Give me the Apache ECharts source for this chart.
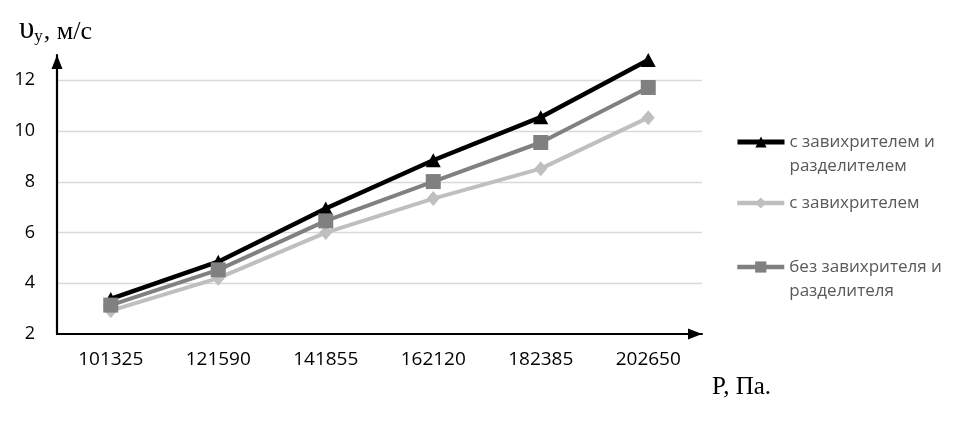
<!DOCTYPE html>
<html><head><meta charset="utf-8">
<script src="https://cdn.jsdelivr.net/npm/echarts@6/dist/echarts.min.js"></script>
<style>html,body{margin:0;padding:0;background:#fff}#c{width:957px;height:428px}</style>
</head><body><div id="c"></div>
<script>
const categories = ['101325', '121590', '141855', '162120', '182385', '202650'];
const seriesNames = ['с завихрителем и разделителем', 'с завихрителем', 'без завихрителя и разделителя'];
const withSwirlerAndSeparator = [3.38, 4.85, 6.95, 8.85, 10.55, 12.8];
const withSwirler = [2.92, 4.2, 6.0, 7.34, 8.52, 10.53];
const withoutSwirlerAndSeparator = [3.14, 4.53, 6.46, 8.01, 9.55, 11.72];
const yTicks = [2, 4, 6, 8, 10, 12];

const chart = echarts.init(document.getElementById('c'), null, {renderer: 'canvas'});
const sans = '"Open Sans", sans-serif';
const serif = '"Liberation Serif", "DejaVu Serif", serif';

function legendFor(name, top, lw) {
  return {
    data: [name], orient: 'vertical', left: 735, top: top, padding: 0,
    itemWidth: 47, itemHeight: 14, selectedMode: false,
    lineStyle: { width: lw },
    formatter: function (n) {
      if (n === seriesNames[0]) return '\nс завихрителем и\nразделителем';
      if (n === seriesNames[2]) return '\nбез завихрителя и\nразделителя';
      return n;
    },
    textStyle: { fontFamily: sans, fontSize: 17, color: '#595959', lineHeight: 24 }
  };
}

const option = {
  animation: false,
  backgroundColor: '#fff',
  grid: { left: 57, right: 255, top: 55, bottom: 94, containLabel: false },
  title: [
    { text: '{a|υ}{b|у}{c|, м/с}', left: 19, top: 14, padding: 0,
      textStyle: { fontWeight: 'normal', rich: {
        a: { fontFamily: serif, fontSize: 31, fontWeight: 'normal', color: '#000', verticalAlign: 'bottom' },
        b: { fontFamily: serif, fontSize: 17, fontWeight: 'normal', color: '#000', padding: [14, 1, 0, 0], verticalAlign: 'bottom' },
        c: { fontFamily: serif, fontSize: 26, fontWeight: 'normal', color: '#000', verticalAlign: 'bottom' } } } },
    { text: 'P, Па.', left: 712, top: 375, padding: 0,
      textStyle: { fontFamily: serif, fontSize: 25, fontWeight: 'normal', color: '#000' } }
  ],
  legend: [
    legendFor(seriesNames[0], 106, 5),
    legendFor(seriesNames[1], 191, 4.5),
    legendFor(seriesNames[2], 231, 4.5)
  ],
  xAxis: {
    type: 'category', data: categories, boundaryGap: true,
    axisLine: { show: true, lineStyle: { color: '#000', width: 2.2 },
      symbol: ['none', 'triangle'], symbolSize: [11, 14], symbolOffset: [0, -7] },
    axisTick: { show: false },
    axisLabel: { fontFamily: sans, fontSize: 19, color: '#000', margin: 16 },
    splitLine: { show: false }
  },
  yAxis: {
    type: 'value', min: 2, max: 13, interval: 2,
    axisLine: { show: true, lineStyle: { color: '#000', width: 2.2 },
      symbol: ['none', 'triangle'], symbolSize: [11, 14], symbolOffset: [0, -7] },
    axisTick: { show: false },
    axisLabel: { fontFamily: sans, fontSize: 18, color: '#000', margin: 22, showMaxLabel: false,
      formatter: function (v) { return yTicks.indexOf(v) >= 0 ? String(v) : ''; } },
    splitLine: { show: true, showMaxLine: false, showMinLine: false, lineStyle: { color: '#d9d9d9', width: 1.3 } }
  },
  series: [
    { name: seriesNames[0], type: 'line', data: withSwirlerAndSeparator,
      symbol: 'triangle', symbolSize: [15, 14], color: '#000',
      lineStyle: { color: '#000', width: 4.5 }, itemStyle: { color: '#000' } },
    { name: seriesNames[1], type: 'line', data: withSwirler,
      symbol: 'diamond', symbolSize: [13, 15], color: '#bfbfbf',
      lineStyle: { color: '#bfbfbf', width: 4 }, itemStyle: { color: '#bfbfbf' } },
    { name: seriesNames[2], type: 'line', data: withoutSwirlerAndSeparator,
      symbol: 'rect', symbolSize: 15, color: '#808080',
      lineStyle: { color: '#808080', width: 4 }, itemStyle: { color: '#808080' } }
  ]
};
chart.setOption(option);
</script>
</body></html>
